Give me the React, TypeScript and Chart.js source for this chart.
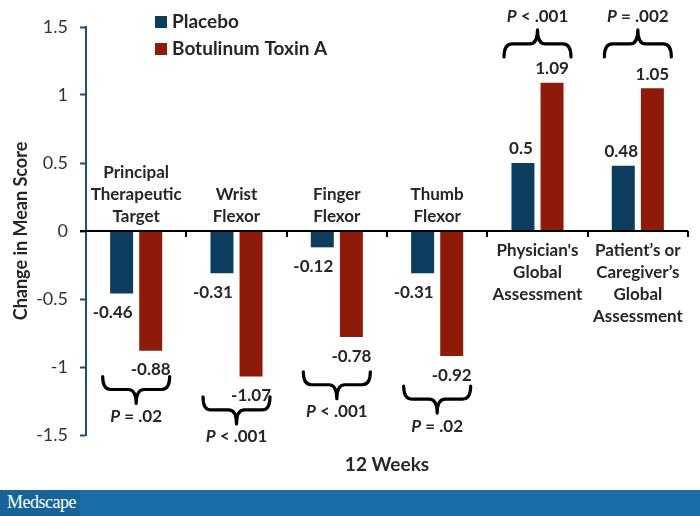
import React, { useEffect, useRef } from "react";
import { Chart, registerables } from "chart.js";
Chart.register(...registerables);

const categories: string[][] = [
  ["Principal", "Therapeutic", "Target"],
  ["Wrist", "Flexor"],
  ["Finger", "Flexor"],
  ["Thumb", "Flexor"],
  ["Physician's", "Global", "Assessment"],
  ["Patient’s or", "Caregiver’s", "Global", "Assessment"],
];
const placebo = [-0.46, -0.31, -0.12, -0.31, 0.5, 0.48];
const botox = [-0.88, -1.07, -0.78, -0.92, 1.09, 1.05];
const pValues = ["= .02", "< .001", "< .001", "= .02", "< .001", "= .002"];
const braceLevels = [-1.07, -1.22, -1.035, -1.14, 1.28, 1.28];
const seriesNames = ["Placebo", "Botulinum Toxin A"];
const yMin = -1.5;
const yMax = 1.5;
const yStep = 0.5;

const FONT = 'Lato, "Noto Sans", sans-serif';
const TEXT = "#262626";
const BLUE = "#0C3C5E";
const RED = "#8E1A0A";
const AXIS = "#1F4E6E";

const overlay = {
  id: "overlay",
  afterDatasetsDraw(chart: any) {
    const { ctx, chartArea } = chart;
    const xs = chart.scales.x;
    const ys = chart.scales.y;
    const y0 = ys.getPixelForValue(0);
    const n = categories.length;
    const catW = (chartArea.right - chartArea.left) / n;
    ctx.save();
    // zero line + tick marks
    ctx.strokeStyle = "#000";
    ctx.lineWidth = 2;
    ctx.beginPath();
    ctx.moveTo(chartArea.left - 6, y0);
    ctx.lineTo(chartArea.right, y0);
    for (let i = 1; i <= n; i++) {
      const x = Math.round(chartArea.left + i * catW);
      ctx.moveTo(x, y0);
      ctx.lineTo(x, y0 + 6);
    }
    ctx.stroke();

    // category labels
    ctx.fillStyle = TEXT;
    ctx.font = `bold 17px ${FONT}`;
    ctx.textAlign = "center";
    ctx.textBaseline = "alphabetic";
    const lh = 22;
    categories.forEach((lines, i) => {
      const cx = xs.getPixelForValue(i);
      const neg = placebo[i] < 0;
      lines.forEach((t, j) => {
        const y = neg ? y0 - 9 - (lines.length - 1 - j) * lh : y0 + 25 + j * lh;
        ctx.fillText(t, cx, y);
      });
    });

    // data labels
    ctx.font = `bold 17px ${FONT}`;
    ctx.textBaseline = "middle";
    chart.data.datasets.forEach((ds: any, di: number) => {
      const meta = chart.getDatasetMeta(di);
      meta.data.forEach((el: any, i: number) => {
        const v = ds.data[i];
        const dx = di === 0 ? (v < 0 ? -9 : -2) : 0;
        const y = v >= 0 ? el.y - 14 : el.y + 19;
        ctx.fillText(String(v), el.x + dx, y);
      });
    });

    // braces + p values
    ctx.strokeStyle = "#000";
    ctx.lineWidth = 3.2;
    ctx.lineCap = "round";
    ctx.lineJoin = "round";
    const bw = 67;
    pValues.forEach((p, i) => {
      const cx = xs.getPixelForValue(i);
      const yT = ys.getPixelForValue(braceLevels[i]);
      const s = braceLevels[i] < 0 ? 1 : -1;
      const x0 = cx - bw / 2;
      const x1 = cx + bw / 2;
      const mid = yT + s * 13;
      const pt = mid + s * 14;
      const r = 8;
      ctx.beginPath();
      ctx.moveTo(x0, yT);
      ctx.quadraticCurveTo(x0, mid, x0 + r, mid);
      ctx.lineTo(cx - r, mid);
      ctx.quadraticCurveTo(cx, mid, cx, pt);
      ctx.quadraticCurveTo(cx, mid, cx + r, mid);
      ctx.lineTo(x1 - r, mid);
      ctx.quadraticCurveTo(x1, mid, x1, yT);
      ctx.stroke();
      const ty = pt + s * 13;
      const f1 = `italic bold 17px ${FONT}`;
      const f2 = `bold 17px ${FONT}`;
      ctx.font = f1;
      const w1 = ctx.measureText("P").width;
      ctx.font = f2;
      const rest = " " + p;
      const w2 = ctx.measureText(rest).width;
      const sx = cx - (w1 + w2) / 2;
      ctx.textAlign = "left";
      ctx.textBaseline = "middle";
      ctx.font = f1;
      ctx.fillText("P", sx, ty);
      ctx.font = f2;
      ctx.fillText(rest, sx + w1, ty);
      ctx.textAlign = "center";
    });

    // legend
    const colors = [BLUE, RED];
    ctx.font = `bold 19px ${FONT}`;
    ctx.textAlign = "left";
    ctx.textBaseline = "alphabetic";
    seriesNames.forEach((name, i) => {
      const top = 16 + i * 27;
      ctx.fillStyle = colors[i];
      ctx.fillRect(155, top, 12, 12);
      ctx.fillStyle = TEXT;
      ctx.fillText(name, 172, top + 12);
    });
    ctx.restore();
  },
};

export default function App() {
  const ref = useRef<HTMLCanvasElement>(null);
  useEffect(() => {
    const prev = document.body.style.margin;
    document.body.style.margin = "0";
    const chart = new Chart(ref.current!, {
      type: "bar",
      data: {
        labels: categories.map((c) => c.join(" ")),
        datasets: [
          { label: seriesNames[0], data: placebo, backgroundColor: BLUE },
          { label: seriesNames[1], data: botox, backgroundColor: RED },
        ],
      },
      options: {
        animation: false,
        responsive: false,
        maintainAspectRatio: false,
        layout: { padding: { left: 0, right: 12, top: 27, bottom: 0 } },
        datasets: { bar: { barPercentage: 0.79, categoryPercentage: 0.58 } },
        plugins: { legend: { display: false }, tooltip: { enabled: false } },
        scales: {
          x: {
            ticks: { display: false },
            grid: { display: false },
            border: { display: false },
            title: {
              display: true,
              text: "12 Weeks",
              color: TEXT,
              font: { family: FONT, size: 19, weight: "bold" },
              padding: { top: 0, bottom: 14 },
            },
            afterFit: (s: any) => {
              s.height = 55;
            },
          },
          y: {
            min: yMin,
            max: yMax,
            ticks: {
              stepSize: yStep,
              color: "#333",
              padding: 12,
              font: { family: FONT, size: 18 },
              callback: (v: any) => String(v),
            },
            grid: {
              drawOnChartArea: false,
              drawTicks: true,
              tickLength: 6,
              tickColor: AXIS,
              tickWidth: 2,
            },
            border: { color: AXIS, width: 2 },
            title: {
              display: true,
              text: "Change in Mean Score",
              color: TEXT,
              font: { family: FONT, size: 18, weight: "bold" },
              padding: { top: 10, bottom: 0 },
            },
            afterFit: (s: any) => {
              s.width = 86;
            },
          },
        },
      },
      plugins: [overlay],
    });
    return () => {
      chart.destroy();
      document.body.style.margin = prev;
    };
  }, []);
  return (
    <div style={{ width: 700, height: 516, position: "relative", background: "#fff" }}>
      <canvas ref={ref} width={700} height={490} style={{ display: "block" }} />
      <div
        style={{
          position: "absolute",
          left: 0,
          top: 490,
          width: 700,
          height: 26,
          background: "#1B6EA5",
        }}
      >
        <div
          style={{
            position: "absolute",
            left: 0,
            top: 0,
            height: 26,
            width: 80,
            background: "#17639A",
          }}
        />
        <span
          style={{
            position: "absolute",
            left: 7,
            top: 2,
            color: "#fff",
            fontFamily: '"Liberation Serif", "DejaVu Serif", serif',
            fontSize: 18,
            letterSpacing: -0.5,
          }}
        >
          Medscape
        </span>
      </div>
    </div>
  );
}
